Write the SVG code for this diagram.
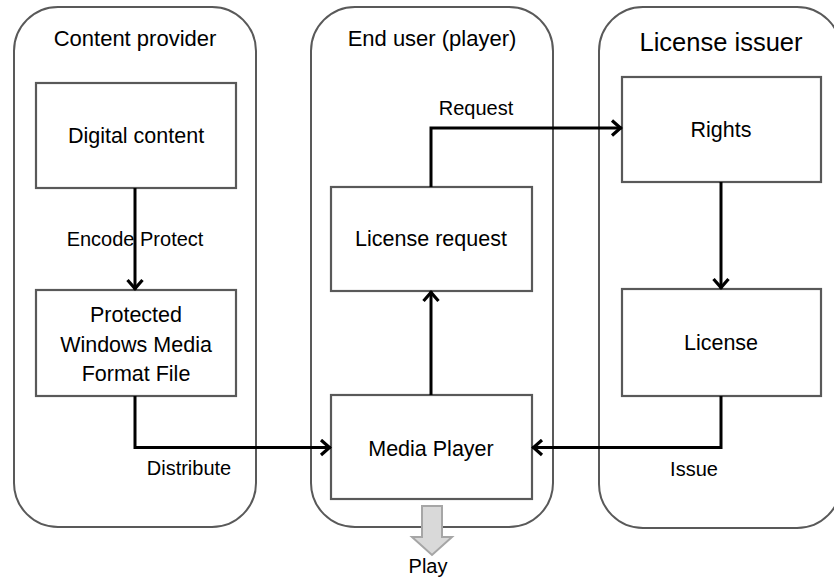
<svg xmlns="http://www.w3.org/2000/svg" width="834" height="580" viewBox="0 0 834 580">
<defs>
<style>
.cont{fill:#fff;stroke:#595959;stroke-width:2}
.box{fill:#fff;stroke:#595959;stroke-width:2.2}
text{font-family:"Liberation Sans",Arial,sans-serif;fill:#000;text-anchor:middle}
.title{font-size:22px}
.big{font-size:25.5px}
.bt{font-size:21.5px}
.lbl{font-size:20px}
.conn{fill:none;stroke:#000;stroke-width:3;marker-end:url(#arr)}
</style>
<marker id="arr" viewBox="-12 -9 14 18" refX="0" refY="0" markerWidth="14" markerHeight="18" markerUnits="userSpaceOnUse" orient="auto">
<path d="M-10,-7.5 L-1.5,0 L-10,7.5" fill="none" stroke="#000" stroke-width="3.2"/>
</marker>
</defs>
<g id="content-provider">
<rect class="cont" x="14" y="7" width="242" height="520" rx="44"/>
<text class="title" x="135" y="46">Content provider</text>
</g>
<g id="end-user">
<rect class="cont" x="311" y="7" width="242" height="520" rx="44"/>
<text class="title" x="432" y="46">End user (player)</text>
</g>
<g id="license-issuer">
<rect class="cont" x="599" y="7" width="242" height="521" rx="44"/>
<text class="big" x="721" y="51">License issuer</text>
</g>
<g id="digital-content">
<rect class="box" x="36" y="83" width="200" height="105"/>
<text class="bt" x="136" y="143">Digital content</text>
</g>
<g id="protected-file">
<rect class="box" x="36" y="290" width="200" height="106"/>
<text class="bt" x="136" y="322">Protected</text>
<text class="bt" x="136" y="352">Windows Media</text>
<text class="bt" x="136" y="381">Format File</text>
</g>
<g id="license-request">
<rect class="box" x="331" y="187" width="201" height="104"/>
<text class="bt" x="431" y="246">License request</text>
</g>
<g id="media-player">
<rect class="box" x="331" y="395" width="201" height="104"/>
<text class="bt" x="431" y="456">Media Player</text>
</g>
<g id="rights">
<rect class="box" x="622" y="77" width="199" height="105"/>
<text class="bt" x="721" y="137">Rights</text>
</g>
<g id="license">
<rect class="box" x="622" y="289" width="199" height="107"/>
<text class="bt" x="721" y="350">License</text>
</g>
<g id="connectors">
<path class="conn" d="M135,188 V290"/>
<path class="conn" d="M135,396 V447.5 H331"/>
<path class="conn" d="M431,395 V291"/>
<path class="conn" d="M431,187 V128 H622"/>
<path class="conn" d="M721,182 V289"/>
<path class="conn" d="M721,396 V447.5 H532"/>
<text class="lbl" x="135" y="246">Encode Protect</text>
<text class="lbl" x="189" y="475">Distribute</text>
<text class="lbl" x="476" y="115">Request</text>
<text class="lbl" x="694" y="476">Issue</text>
</g>
<g id="play">
<path d="M422,506 H442 V537 H452 L432,555 L412,537 H422 Z" fill="#d9d9d9" stroke="#a6a6a6" stroke-width="2"/>
<text class="lbl" x="428" y="573">Play</text>
</g>
</svg>
